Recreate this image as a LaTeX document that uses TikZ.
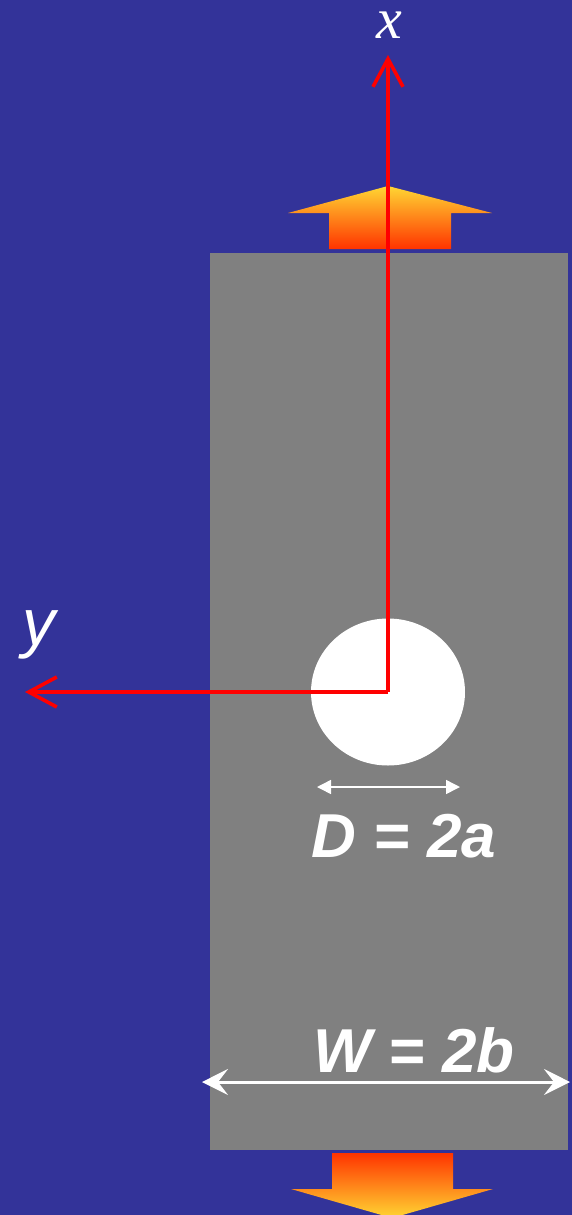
\documentclass[tikz,border=0pt]{standalone}
\usepackage{fontspec}
\setmainfont{Liberation Serif}
\setsansfont{Liberation Sans}
\usetikzlibrary{arrows.meta}
\definecolor{bgblue}{HTML}{333399}
\definecolor{plate}{HTML}{808080}
\definecolor{axisred}{HTML}{FF0000}
\definecolor{loadtop}{HTML}{FFD633}
\definecolor{loadbot}{HTML}{FF3300}

\begin{document}
\begin{tikzpicture}[
 x=0.5pt,y=-0.5pt,
 axis/.style={draw=axisred,line width=1.8pt,-{Straight Barb[length=14pt,width=15pt]}},
 dim/.style={draw=white,line width=0.75pt,{Triangle[length=7pt,width=7pt]}-{Triangle[length=7pt,width=7pt]}},
 dimw/.style={draw=white,line width=1.5pt,{Stealth[length=13pt,width=13pt,inset=5pt]}-{Stealth[length=13pt,width=13pt,inset=5pt]}},
 lbl/.style={text=white,inner sep=0pt,anchor=base,font=\sffamily\bfseries\itshape\fontsize{31}{36}\selectfont},
 load/.style={top color=loadtop,bottom color=loadbot}
]
\useasboundingbox (0,0) rectangle (572,1215);
\fill[bgblue] (0,0) rectangle (572,1215);

% plate with hole
\fill[plate] (210,253) rectangle (568,1150);
\coordinate (o) at (388,692);
\fill[white] (o) ellipse (77 and 73.5);

% tension loads
\shade[load] (388,186) -- (492,213) -- (451,213) -- (451,249) -- (329,249) -- (329,213) -- (288,213) -- cycle;
\shade[top color=loadbot,bottom color=loadtop] (332,1153) -- (453,1153) -- (453,1189) -- (493,1189) -- (392,1218) -- (291,1189) -- (332,1189) -- cycle;

% axes
\coordinate (xend) at (388,55);
\coordinate (yend) at (25,692);
\draw[axis] (o) -- (xend);
\draw[axis] (o) -- (yend);
\node[text=white,inner sep=0pt,anchor=base,text height=1ex,font=\rmfamily\itshape\fontsize{29}{34}\selectfont] (xlbl) at (389,39) {x};
\node[text=white,inner sep=0pt,anchor=base,font=\sffamily\itshape\fontsize{33}{38}\selectfont] (ylbl) at (39,645) {y};

% dimensions
\coordinate (d1) at (317,787);
\coordinate (d2) at (460,787);
\draw[dim] (d1) -- (d2);
\node[lbl] (dlbl) at (404,857) {D = 2a};
\coordinate (w1) at (202,1082);
\coordinate (w2) at (570,1082);
\draw[dimw] (w1) -- (w2);
\node[lbl] (wlbl) at (414,1072) {W = 2b};
\end{tikzpicture}
\end{document}
